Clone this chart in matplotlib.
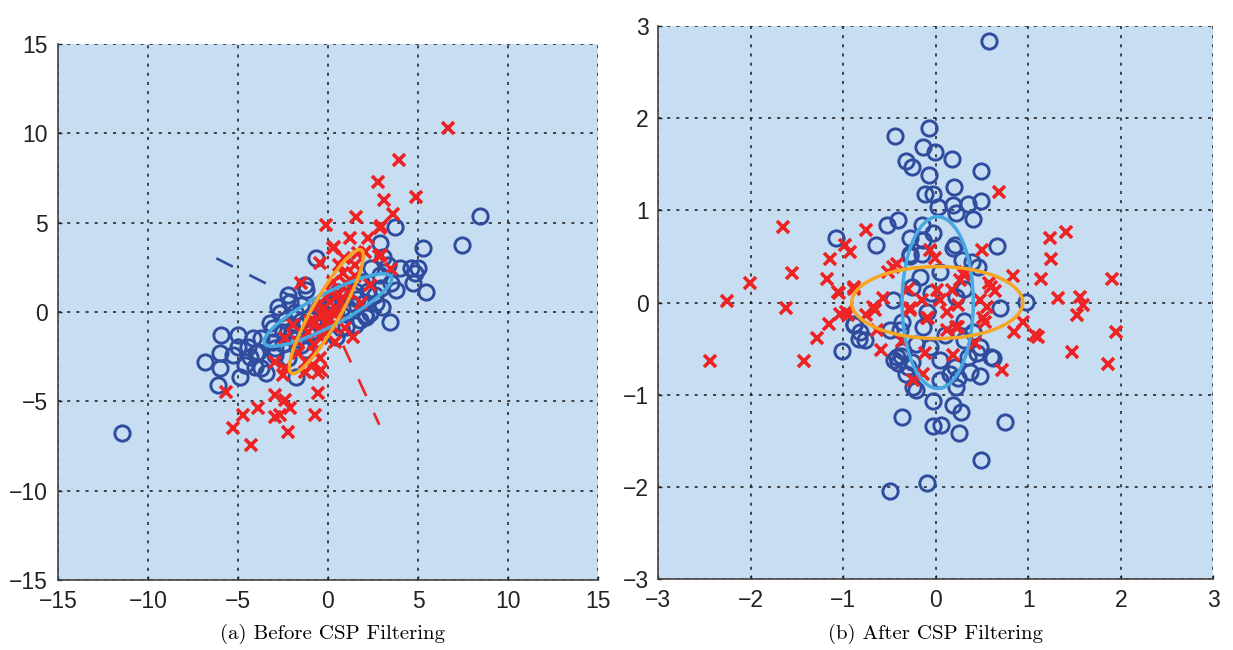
import matplotlib
matplotlib.use("Agg")
import matplotlib.pyplot as plt
from matplotlib.patches import Ellipse

# ---- (a) before CSP filtering ----
a_blue_x = [-11.46, 8.43, 7.47, 5.47, 5.28, 3.74, 2.87, -0.64, 5.0, 4.63, 3.98, 4.82, 4.72, 3.80,
            3.43, 3.33, 2.87, 2.32, 2.04, 2.59, 2.96, 1.86, 2.41, 3.05, 0.56, -0.37, -1.85, -1.48,
            -1.29, -2.22, -2.13, -2.78, -2.68, -2.41, -3.04, -3.24, -3.70, -3.89, -3.70, -2.96,
            -2.96, -2.22, -1.48, -0.92, 0.74, 1.48, 1.11, 2.04, 2.13, 1.76, 2.69, 1.02, 0.47,
            -1.20, -2.48, -2.13, -1.20, -1.76, -3.06, -3.42, -5.92, -5.0, -4.16, -6.85, -6.02,
            -6.02, -6.09, -5.0, -4.90, -4.35, -3.98, -4.63, -4.07, -4.44, -5.28, 0.0, 0.9, 1.5,
            -0.8, 1.3, -1.2, -0.4, -2.0, -1.5, -1.0, -0.5, 0.3, 0.8, 1.6, 2.2, 3.5, 3.0, -2.5, -1.8]
a_blue_y = [-6.76, 5.36, 3.74, 1.13, 3.56, 4.77, 3.84, 3.0, 2.44, 2.44, 2.44, 2.16, 1.60, 1.23,
            -0.54, 2.63, 2.07, -0.07, 0.58, 0.95, 1.32, 1.69, 2.44, 3.05, 1.13, 0.02, 0.02, 0.39,
            1.51, 0.95, 0.58, 0.30, -0.07, -0.45, -0.91, -0.63, -1.47, -2.22, -3.15, -2.40,
            -2.03, -2.59, -1.84, -1.10, -0.91, -0.73, 0.21, -0.17, -0.26, -0.45, 0.49, -0.82, -1.38,
            1.23, -1.10, -1.38, -2.12, -3.61, -1.66, -3.42, -1.28, -1.28, -1.47, -2.78, -2.31,
            -3.15, -4.08, -1.94, -3.61, -2.50, -2.31, -2.96, -3.06, -1.94, -2.40, 0.4, 0.9, 1.2,
            -0.4, 0.5, -0.6, -0.8, -1.0, -0.5, -0.3, 0.2, 0.6, 0.2, 0.7, 1.2, 1.6, 0.3, -1.8, -1.5]
a_red_x = [6.68, 3.94, 2.80, 4.87, 3.11, 3.61, 1.58, -0.13, 2.93, 1.20, 2.23, 0.32, 2.83, -0.46,
           1.67, 3.52, 0.83, 2.87, 0.28, 2.04, 2.96, 1.48, -1.48, 2.32, 0.19, 1.11, -0.56, 0.09,
           0.74, 1.86, -0.37, 0.37, -0.74, -0.09, -1.94, -1.11, 0.93, 1.39, -1.67, -0.37, 0.37,
           -2.41, -1.67, -0.74, -2.96, -0.83, -0.37, -2.41, -1.29, -5.64, -4.72, -5.28, -4.26,
           -3.89, -2.96, -2.41, -2.13, -2.96, -2.68, -2.22, -0.74, -0.54, -0.54, -2.48, -0.46,
           0.5, 0.0, -0.5, 1.0, 0.6, -0.2, 0.6, -1.0, -0.3, 0.2, 1.5, 0.9, -0.8, -1.2, 0.3]
a_red_y = [10.26, 8.49, 7.28, 6.44, 6.26, 5.47, 5.32, 4.86, 4.80, 4.12, 4.12, 3.61, 3.13, 2.72,
           3.28, 2.39, 2.16, 4.68, 3.56, 3.37, 3.18, 2.63, 1.60, 1.51, 1.13, 1.13, 0.39, 0.58,
           0.58, 0.49, -0.17, -0.17, -0.54, -0.63, -0.73, -1.10, -0.91, -1.38, -1.66, -1.47, -1.66,
           -1.47, -2.31, -2.22, -2.78, -2.96, -3.24, -3.15, -3.34, -4.45, -5.75, -6.50, -7.43,
           -5.38, -4.64, -4.92, -5.38, -5.85, -5.75, -6.69, -5.75, -4.51, -3.42, -3.52, -2.59,
           0.0, -0.3, -1.0, 1.6, 2.6, 0.2, 1.0, -0.5, -1.0, -0.8, 2.0, 3.0, -1.8, -2.8, 1.7]
# dashed direction lines (start, end)
a_blue_dash = [(-6.2, 0.0), (3.0, -0.16)]
a_red_dash = [(0.0, 2.85), (0.0, -6.3)]
# ellipses: center, half axes, angle (deg)
a_ell_blue = [(0.0, 0.11), 3.98, 0.9, 27.9]
a_ell_orange = [(-0.09, 0.02), 3.95, 0.78, 60.6]

# ---- (b) after CSP filtering ----
b_blue_x = [0.57, -0.44, -0.07, -0.14, -0.01, 0.17, -0.32, -0.26, 0.49, -0.07, -0.12, -0.03, 0.20,
            0.49, 0.35, 0.19, 0.02, 0.22, 0.40, -0.41, -0.53, -1.08, -0.65, -0.15, -0.28, -0.14,
            -0.03, -0.28, -0.15, 0.66, 0.19, 0.28, 0.46, -0.17, -0.26, 0.21, 0.39, 0.04, -0.28,
            0.98, 0.69, 0.22, -0.46, -0.10, -0.14, -0.37, -1.02, -0.83, -0.88, -0.82, -0.50, -0.39,
            -0.35, -0.42, -0.41, -0.26, -0.32, -0.25, -0.21, -0.06, 0.04, 0.21, 0.35, 0.48, 0.60,
            0.04, 0.15, 0.22, 0.30, 0.40, 0.48, 0.62, 0.37, 0.24, 0.44, -0.03, 0.19, 0.27, -0.03,
            0.06, 0.25, 0.75, 0.49, -0.37, -0.50, -0.10, -0.77, -0.89,
            -0.45, -0.38, -0.30, -0.22, 0.10, 0.30, -0.05, 0.30]
b_blue_y = [2.83, 1.81, 1.89, 1.69, 1.63, 1.56, 1.53, 1.47, 1.43, 1.38, 1.18, 1.18, 1.25,
            1.10, 1.07, 1.06, 1.04, 0.97, 0.91, 0.89, 0.84, 0.70, 0.62, 0.84, 0.70, 0.68,
            0.75, 0.53, 0.53, 0.61, 0.59, 0.46, 0.39, 0.28, 0.17, 0.62, 0.44, 0.33, 0.50,
            0.01, -0.06, 0.06, 0.03, -0.10, -0.26, -0.21, -0.52, -0.40, -0.24, -0.32, -0.30, -0.30,
            -0.53, -0.59, -0.66, -0.64, -0.77, -0.91, -0.95, -0.48, -0.62, -0.70, -0.59, -0.80, -0.59,
            -0.84, -0.77, -0.91, -0.41, -0.32, -0.48, -0.60, -0.75, -0.82, -0.55, -1.07, -1.11, -1.19, -1.34,
            -1.33, -1.41, -1.29, -1.71, -1.24, -2.04, -1.95, -0.41, -0.23,
            -0.62, -0.58, -0.70, -0.45, -0.35, -0.20, 0.10, 0.15]
b_red_x = [-1.65, -0.75, -0.98, -0.93, -1.15, -1.56, -1.18, -2.01, -0.88, -1.06, -0.46, -0.06,
           -2.26, -1.62, -2.44, -1.43, -1.28, -1.16, -1.04, -1.05, -0.95, -0.75, -0.66, -0.57,
           -0.64, -0.59, -0.28, -0.12, -0.14, -0.25, -0.37, 0.68, 1.23, 1.41, 1.25, 1.14, 1.90,
           0.50, 0.83, 1.32, 1.56, 1.59, 1.53, 1.95, 1.07, 1.11, 1.47, 1.86, 0.85, 0.94, 0.72,
           0.19, -0.10, 0.53, 0.24, 0.30, 0.60, -0.01, -0.42, -0.52, 0.31, 0.26, 0.58, -0.30,
           0.01, 0.17, -0.89, -0.15, 0.04, 0.24, 0.48, 0.64, 0.55, -0.28, -0.68, -0.97, -0.08,
           0.12, 0.22, 0.51, 0.12, 0.42]
b_red_y = [0.82, 0.79, 0.62, 0.55, 0.47, 0.32, 0.25, 0.21, 0.17, 0.11, 0.39, 0.57,
           0.02, -0.06, -0.63, -0.63, -0.38, -0.23, -0.12, 0.10, -0.14, -0.14, -0.08, 0.05,
           -0.30, -0.51, -0.08, -0.55, -0.77, -0.84, -0.42, 1.20, 0.70, 0.76, 0.47, 0.25, 0.26,
           0.57, 0.29, 0.05, 0.06, -0.03, -0.14, -0.32, -0.35, -0.37, -0.54, -0.67, -0.32, -0.21, -0.73,
           -0.57, -0.17, -0.21, -0.26, 0.30, 0.17, 0.48, 0.42, 0.33, 0.33, 0.24, 0.21, 0.15,
           0.14, 0.14, 0.15, 0.03, 0.03, -0.03, 0.03, 0.12, -0.05, -0.06, -0.05, -0.10, -0.17,
           -0.10, -0.26, -0.17, -0.30, -0.44]
b_ell_blue = [(0.02, 0.0), 0.385, 0.93, 0.0]
b_ell_orange = [(0.015, 0.0), 0.925, 0.39, 0.0]

ticks_a = [-15, -10, -5, 0, 5, 10, 15]
ticks_b = [-3, -2, -1, 0, 1, 2, 3]
captions = ["(a) Before CSP Filtering", "(b) After CSP Filtering"]

BG = '#c7ddf2'
BLUE = '#2f4c9f'
RED = '#ee2323'
LBLUE = '#46a9e0'
ORANGE = '#f7a623'

fig = plt.figure(figsize=(12.33, 6.5), dpi=100)
ax1 = fig.add_axes([0.047, 0.107, 0.438, 0.826])
ax2 = fig.add_axes([0.534, 0.1085, 0.450, 0.852])


def style(ax, ticks):
    ax.set_facecolor(BG)
    ax.set_xlim(ticks[0], ticks[-1])
    ax.set_ylim(ticks[0], ticks[-1])
    ax.set_xticks(ticks)
    ax.set_yticks(ticks)
    ax.tick_params(direction='in', length=3, width=1, labelsize=16.5, pad=7,
                   colors='#222222')
    for s in ['top', 'right']:
        ax.spines[s].set_visible(False)
    for s in ['left', 'bottom']:
        ax.spines[s].set_color('#444444')
        ax.spines[s].set_linewidth(1.2)
    ax.grid(True, color='#1a1a1a', linestyle=(0, (2, 4)), linewidth=1.1)
    ax.set_axisbelow(True)
    for lab in ax.get_xticklabels() + ax.get_yticklabels():
        lab.set_fontfamily('Liberation Sans')


def draw(ax, bx, by, rx, ry, ells):
    ax.plot(bx, by, 'o', ms=11, mfc='none', mec=BLUE, mew=2.1, zorder=3)
    ax.plot(rx, ry, 'x', ms=8.5, mec=RED, mew=2.6, zorder=4)
    for (c, a, b, ang), col in zip(ells, [LBLUE, ORANGE]):
        ax.add_patch(Ellipse(c, 2 * a, 2 * b, angle=ang, fill=False,
                             edgecolor=col, lw=2.5, zorder=5))


style(ax1, ticks_a)
style(ax2, ticks_b)

ax1.plot(*a_blue_dash, color=BLUE, lw=1.9, linestyle=(0, (7, 7)), zorder=2)
ax1.plot(*a_red_dash, color=RED, lw=1.9, linestyle=(0, (7, 7)), zorder=2)
draw(ax1, a_blue_x, a_blue_y, a_red_x, a_red_y, [a_ell_blue, a_ell_orange])
draw(ax2, b_blue_x, b_blue_y, b_red_x, b_red_y, [b_ell_blue, b_ell_orange])

fig.text(0.27, 0.024, captions[0], ha='center', va='center', fontsize=15, family='cmr10')
fig.text(0.759, 0.024, captions[1], ha='center', va='center', fontsize=15, family='cmr10')

fig.savefig('out.png', dpi=100)
